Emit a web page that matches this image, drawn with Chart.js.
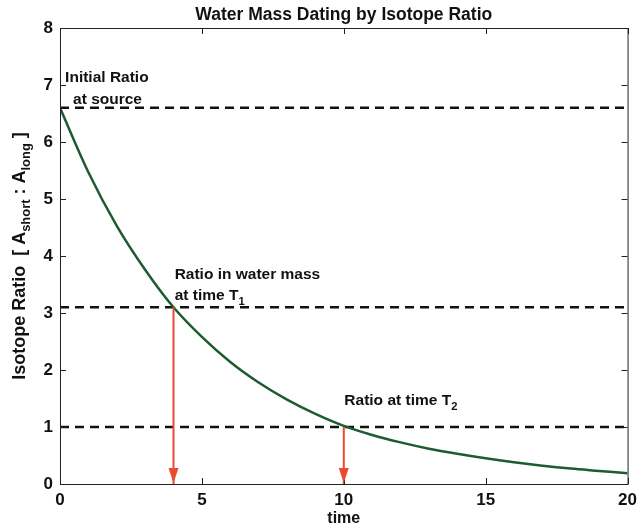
<!DOCTYPE html>
<html lang="en">
<head>
    <meta charset="UTF-8">
    <title>Water Mass Dating by Isotope Ratio</title>
    <script src="https://cdn.jsdelivr.net/npm/chart.js@4.4.0/dist/chart.umd.min.js"></script>
    <style>
        body { margin: 0; background: #fff; }
        .chart-container { position: relative; width: 643px; height: 529px; }
    </style>
</head>
<body>
    <div class="chart-container">
        <canvas id="isotopeChart"></canvas>
    </div>
    <script>
        // --- Data ---
        const times = [0, 1, 2, 3, 4, 5, 6, 7, 8, 9, 10, 11, 12, 13, 14, 15, 16, 17, 18, 19, 20];
        const ratios = [6.6, 5.47, 4.53, 3.76, 3.10, 2.58, 2.14, 1.78, 1.48, 1.23, 1.02,
                        0.86, 0.73, 0.62, 0.53, 0.45, 0.38, 0.32, 0.27, 0.23, 0.19];
        const refLevels = [6.6, 3.1, 1.0];      // dashed reference ratios
        const arrowTimes = [4, 10];             // T1, T2
        const arrowRatios = [3.1, 1.0];
        const xTicks = [0, 5, 10, 15, 20];
        const yTicks = [0, 1, 2, 3, 4, 5, 6, 7, 8];

        const FONT = '"Liberation Sans", Arial, sans-serif';
        const GREEN = '#1d5c30';
        const RED = '#e84a32';

        const datasets = [];
        // decay curve
        datasets.push({
            data: times.map((t, i) => ({ x: t, y: ratios[i] })),
            borderColor: GREEN,
            borderWidth: 2.5,
            pointRadius: 0,
            cubicInterpolationMode: 'monotone',
            order: 2
        });
        // dashed reference lines
        refLevels.forEach(r => {
            datasets.push({
                data: [{ x: 0, y: r }, { x: 20, y: r }],
                borderColor: '#111',
                borderWidth: 2.5,
                borderDash: [9, 6],
                pointRadius: 0,
                order: 3
            });
        });
        // red arrows (shafts)
        arrowTimes.forEach((t, i) => {
            datasets.push({
                data: [{ x: t, y: arrowRatios[i] }, { x: t, y: 0 }],
                borderColor: RED,
                borderWidth: 2,
                pointRadius: 0,
                order: 1
            });
        });

        // text labels, placed in data coordinates
        const notes = [
            { x: 0.18, y: 7.12, runs: [{ t: 'Initial Ratio' }] },
            { x: 0.46, y: 6.75, runs: [{ t: 'at source' }] },
            { x: 4.04, y: 3.67, runs: [{ t: 'Ratio in water mass' }] },
            { x: 4.04, y: 3.30, runs: [{ t: 'at time T' }, { t: '1', sub: true }] },
            { x: 10.02, y: 1.46, runs: [{ t: 'Ratio at time T' }, { t: '2', sub: true }] }
        ];

        // draws text with subscripts, left aligned, middle baseline
        function drawRuns(ctx, runs, x, y, size) {
            let cx = x;
            runs.forEach(r => {
                ctx.font = 'bold ' + (r.sub ? size * 0.72 : size) + 'px ' + FONT;
                ctx.fillText(r.t, cx, r.sub ? y + size * 0.38 : y);
                cx += ctx.measureText(r.t).width;
            });
        }
        function runsWidth(ctx, runs, size) {
            let w = 0;
            runs.forEach(r => {
                ctx.font = 'bold ' + (r.sub ? size * 0.72 : size) + 'px ' + FONT;
                w += ctx.measureText(r.t).width;
            });
            return w;
        }

        const decorations = {
            id: 'decorations',
            afterDatasetsDraw(chart) {
                const { ctx, chartArea: a, scales: { x, y } } = chart;
                ctx.save();

                // frame
                ctx.strokeStyle = '#222';
                ctx.lineWidth = 1;
                ctx.strokeRect(a.left + 0.5, a.top + 0.5, a.right - a.left, a.bottom - a.top);

                // inward ticks on all four sides
                ctx.beginPath();
                xTicks.forEach(v => {
                    const px = Math.round(x.getPixelForValue(v)) + 0.5;
                    ctx.moveTo(px, a.bottom); ctx.lineTo(px, a.bottom - 6);
                    ctx.moveTo(px, a.top); ctx.lineTo(px, a.top + 6);
                });
                yTicks.forEach(v => {
                    const py = Math.round(y.getPixelForValue(v)) + 0.5;
                    ctx.moveTo(a.left, py); ctx.lineTo(a.left + 6, py);
                    ctx.moveTo(a.right, py); ctx.lineTo(a.right - 6, py);
                });
                ctx.stroke();

                // arrow heads
                ctx.fillStyle = RED;
                arrowTimes.forEach(t => {
                    const px = x.getPixelForValue(t);
                    const py = y.getPixelForValue(0);
                    ctx.beginPath();
                    ctx.moveTo(px, py - 1);
                    ctx.lineTo(px - 5, py - 16);
                    ctx.lineTo(px + 5, py - 16);
                    ctx.closePath();
                    ctx.fill();
                });

                // annotations
                ctx.fillStyle = '#111';
                ctx.textBaseline = 'middle';
                ctx.textAlign = 'left';
                notes.forEach(n => {
                    drawRuns(ctx, n.runs, x.getPixelForValue(n.x), y.getPixelForValue(n.y), 15.5);
                });

                // title
                ctx.font = 'bold 17.5px ' + FONT;
                ctx.textAlign = 'center';
                ctx.fillText('Water Mass Dating by Isotope Ratio', (a.left + a.right) / 2, 15);

                // x axis title
                ctx.font = 'bold 16px ' + FONT;
                ctx.fillText('time', (a.left + a.right) / 2, 519);

                // y axis title (rotated, with subscripts)
                const yRuns = [{ t: 'Isotope Ratio  [ A' }, { t: 'short', sub: true },
                               { t: ' : A' }, { t: 'long', sub: true }, { t: ' ]' }];
                ctx.textAlign = 'left';
                const w = runsWidth(ctx, yRuns, 18);
                ctx.translate(20, 256);
                ctx.rotate(-Math.PI / 2);
                drawRuns(ctx, yRuns, -w / 2, 0, 18);

                ctx.restore();
            }
        };

        new Chart(document.getElementById('isotopeChart'), {
            type: 'line',
            data: { datasets: datasets },
            options: {
                responsive: true,
                maintainAspectRatio: false,
                animation: false,
                layout: { padding: { left: 0, top: 28, right: 13, bottom: 0 } },
                plugins: {
                    legend: { display: false },
                    tooltip: { enabled: false },
                    title: { display: false }
                },
                scales: {
                    x: {
                        type: 'linear',
                        min: 0,
                        max: 20,
                        afterBuildTicks: s => { s.ticks = xTicks.map(v => ({ value: v })); },
                        afterFit: s => { s.height = 45; },
                        grid: { display: false, drawTicks: false },
                        border: { display: false },
                        ticks: {
                            color: '#111',
                            padding: 6,
                            maxRotation: 0,
                            font: { family: FONT, size: 17, weight: 'bold' }
                        }
                    },
                    y: {
                        min: 0,
                        max: 8,
                        afterBuildTicks: s => { s.ticks = yTicks.map(v => ({ value: v })); },
                        afterFit: s => { s.width = 60; },
                        grid: { display: false, drawTicks: false },
                        border: { display: false },
                        ticks: {
                            color: '#111',
                            padding: 7,
                            font: { family: FONT, size: 17, weight: 'bold' }
                        }
                    }
                }
            },
            plugins: [decorations]
        });
    </script>
</body>
</html>
